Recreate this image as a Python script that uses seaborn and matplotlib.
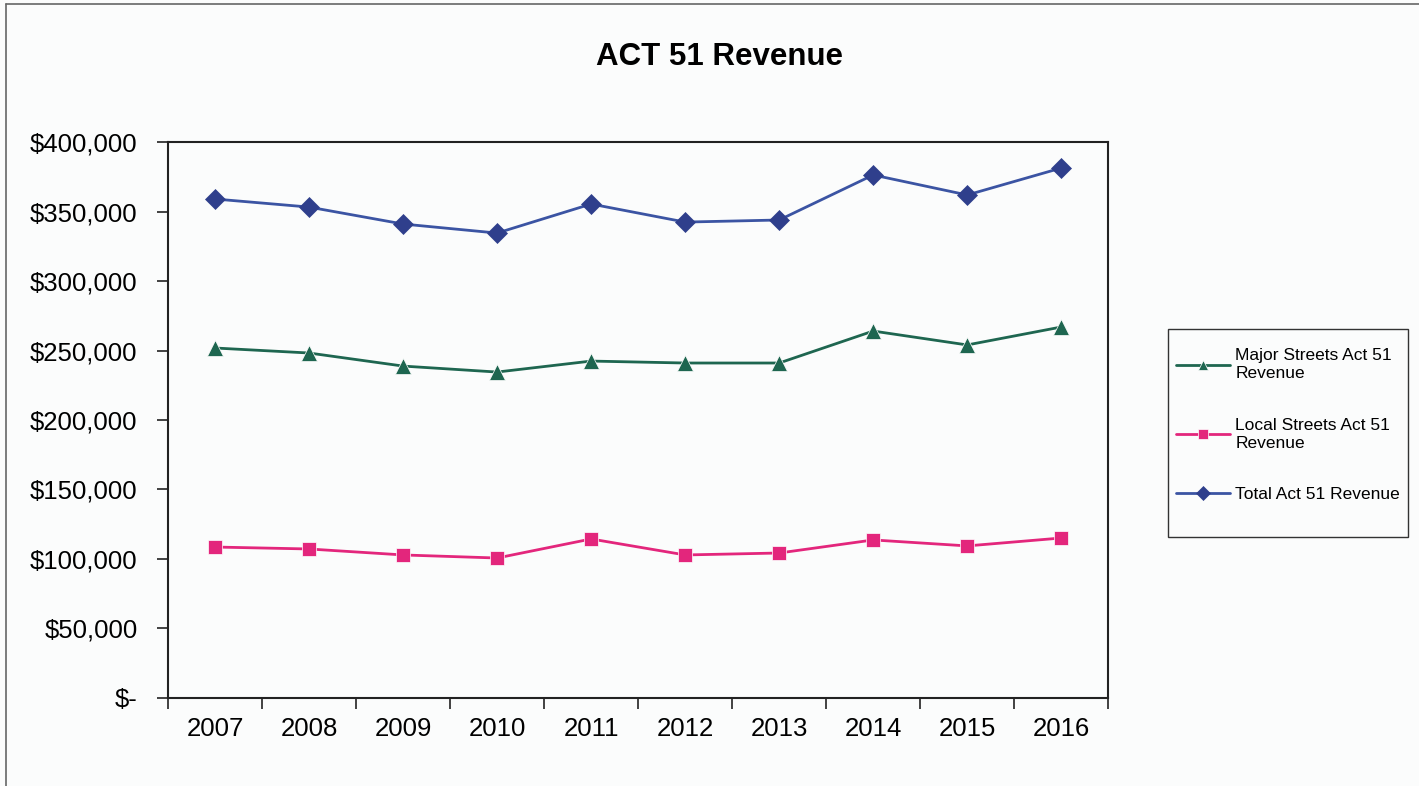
import pandas as pd
import seaborn as sns
import matplotlib.pyplot as plt
from matplotlib.lines import Line2D
from matplotlib.patches import Rectangle
from matplotlib.ticker import FuncFormatter, MultipleLocator, FixedLocator

# -------------------------------
# Data
# -------------------------------
years = ["2007", "2008", "2009", "2010", "2011", "2012", "2013", "2014", "2015", "2016"]
major_streets = [251800, 248200, 238800, 234500, 242400, 241000, 241000, 264000, 254000, 266900]
local_streets = [108600, 107200, 102900, 100700, 114400, 102900, 104300, 113700, 109400, 115100]
total_revenue = [359000, 353200, 341000, 334500, 355400, 342400, 343900, 376300, 361900, 381300]

series_names = ["Major Streets Act 51\nRevenue", "Local Streets Act 51\nRevenue", "Total Act 51 Revenue"]

df = pd.DataFrame({
    "Year": years * 3,
    "Series": [series_names[0]] * 10 + [series_names[1]] * 10 + [series_names[2]] * 10,
    "Revenue": major_streets + local_streets + total_revenue,
})

palette = {
    series_names[0]: "#1e6650",
    series_names[1]: "#e3267c",
    series_names[2]: "#3b54a3",
}
markers = {series_names[0]: "^", series_names[1]: "s", series_names[2]: "D"}

# -------------------------------
# Plot
# -------------------------------
sns.set_style("white")
plt.rcParams["font.family"] = ["Liberation Sans", "DejaVu Sans"]
plt.rcParams["text.color"] = "black"
plt.rcParams["xtick.color"] = "black"
plt.rcParams["ytick.color"] = "black"

W, H = 1419, 786
fig = plt.figure(figsize=(W / 100, H / 100), dpi=100)
fig.patch.set_facecolor("#fbfcfc")
ax = fig.add_axes([0.1184, 0.112, 0.6626, 0.7073])
ax.set_facecolor("#fbfcfc")

sns.lineplot(
    data=df, x="Year", y="Revenue", hue="Series", style="Series",
    palette=palette, markers=markers, dashes=False,
    hue_order=series_names, style_order=series_names,
    linewidth=2, markersize=10, markeredgewidth=0.5, sort=False, ax=ax,
)
for line in ax.get_lines():
    if line.get_color() == palette[series_names[2]]:
        line.set_markerfacecolor("#2f3f8c")
        line.set_markeredgecolor("#2f3f8c")
    elif line.get_color() == palette[series_names[0]]:
        line.set_markersize(12)

ax.set_xlim(-0.5, 9.5)
ax.set_ylim(0, 400000)
ax.yaxis.set_major_locator(MultipleLocator(50000))
ax.yaxis.set_major_formatter(FuncFormatter(lambda v, p: "$-" if v == 0 else f"${v:,.0f}"))
ax.xaxis.set_minor_locator(FixedLocator([i - 0.5 for i in range(11)]))

ax.tick_params(axis="y", which="major", direction="out", length=8, width=1.2,
               labelsize=18.5, pad=14, left=True, color="#222222")
ax.tick_params(axis="x", which="major", length=0, labelsize=18.5, pad=14)
ax.tick_params(axis="x", which="minor", direction="out", length=8, width=1.2,
               bottom=True, color="#222222")

for s in ax.spines.values():
    s.set_color("#222222")
    s.set_linewidth(1.5)

ax.set_xlabel("")
ax.set_ylabel("")
fig.suptitle("ACT 51 Revenue", x=0.507, y=0.947, fontsize=22.5, fontweight="bold")

# legend box drawn as a plain rectangle, entries placed inside it
fig.add_artist(Rectangle((1168 / W, 1 - 537 / H), 240 / W, 208 / H, transform=fig.transFigure,
                         facecolor="none", edgecolor="#333333", linewidth=1.0))
leg = ax.legend(
    loc="upper left", bbox_to_anchor=(1164 / W, 1 - 336 / H), bbox_transform=fig.transFigure,
    fontsize=12.5, frameon=False, handlelength=3.1,
    labelspacing=2.1, borderpad=0.2, handletextpad=0.3,
)
for t in leg.get_texts():
    t.set_linespacing(1.25)
for h in leg.legend_handles:
    h.set_markersize(7)
    h.set_linewidth(2)

# partial outer chart border (left and top)
fig.add_artist(Line2D([6 / W, 6 / W], [0, 1 - 4 / H], transform=fig.transFigure,
                      color="#666666", linewidth=1.2))
fig.add_artist(Line2D([6 / W, 1], [1 - 4 / H, 1 - 4 / H], transform=fig.transFigure,
                      color="#666666", linewidth=1.2))

plt.savefig("out.png", dpi=100, facecolor=fig.get_facecolor())
